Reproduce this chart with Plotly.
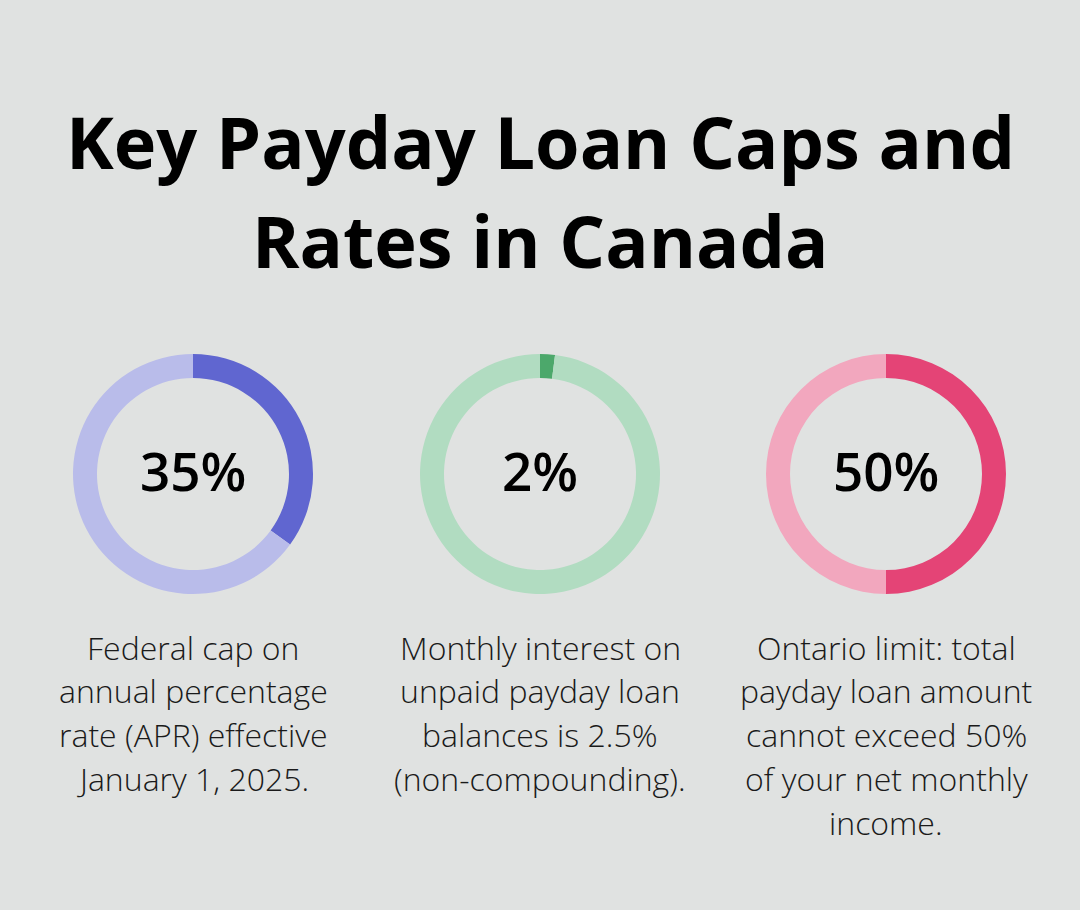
import plotly.graph_objects as go

W, H = 1080, 910

title_lines = ["Key Payday Loan Caps and", "Rates in Canada"]
values = [35, 2, 50]
center_labels = ["35%", "2%", "50%"]
dark_colors = ["#6066D0", "#4CA86B", "#E44476"]
light_colors = ["#B9BCEA", "#B1DCC1", "#F2A7BE"]
descriptions = [
    ["Federal cap on", "annual percentage", "rate (APR) effective", "January 1, 2025."],
    ["Monthly interest on", "unpaid payday loan", "balances is 2.5%", "(non-compounding)."],
    ["Ontario limit: total", "payday loan amount", "cannot exceed 50%", "of your net monthly", "income."],
]

centers_x = [193, 540, 886]
center_y = 474
radius = 120
bg = "#E0E2E1"


def px_x(x):
    return x / W


def px_y(y):
    return 1 - y / H


fig = go.Figure()
for i, v in enumerate(values):
    cx = centers_x[i]
    fig.add_trace(go.Pie(
        values=[v, 100 - v],
        labels=["value", "rest"],
        hole=0.8,
        sort=False,
        direction="clockwise",
        rotation=0,
        marker=dict(colors=[dark_colors[i], light_colors[i]], line=dict(width=0)),
        textinfo="none",
        hoverinfo="none",
        showlegend=False,
        domain=dict(x=[px_x(cx - radius), px_x(cx + radius)],
                    y=[px_y(center_y + radius), px_y(center_y - radius)]),
    ))
    fig.add_annotation(
        x=px_x(cx), y=px_y(center_y - 4), xref="paper", yref="paper",
        text=center_labels[i], showarrow=False, xanchor="center", yanchor="middle",
        font=dict(family="Open Sans", size=53, color="#000000", weight=600),
    )
    for j, line in enumerate(descriptions[i]):
        fig.add_annotation(
            x=px_x(cx), y=px_y(647 + 43.8 * j), xref="paper", yref="paper",
            text=line, showarrow=False, xanchor="center", yanchor="middle",
            font=dict(family="Open Sans", size=32, color="#1a1a1a", weight=300),
        )

for j, line in enumerate(title_lines):
    fig.add_annotation(
        x=0.5, y=px_y(141 + 99 * j), xref="paper", yref="paper",
        text=line, showarrow=False, xanchor="center", yanchor="middle",
        font=dict(family="Open Sans", size=72, color="#000000", weight=700),
    )

fig.update_layout(
    width=W, height=H,
    margin=dict(l=0, r=0, t=0, b=0),
    paper_bgcolor=bg, plot_bgcolor=bg,
)

fig.write_html(
    "out.html",
    config={"displayModeBar": False},
    post_script="document.body.style.margin='0';document.body.style.background='%s';" % bg,
)
